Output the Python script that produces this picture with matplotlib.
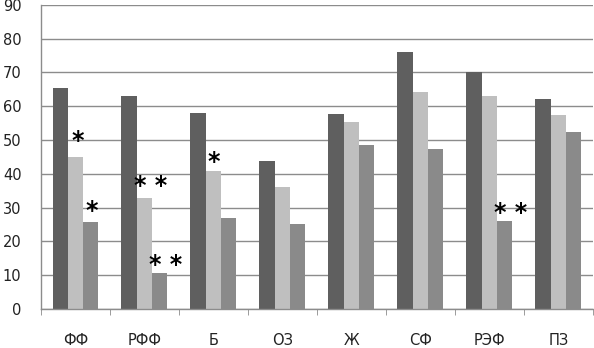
import numpy as np
import matplotlib.pyplot as plt

categories = ["ФФ", "РФФ", "Б", "ОЗ", "Ж", "СФ", "РЭФ", "ПЗ"]
series_a = [65.5, 62.9, 57.9, 43.8, 57.8, 76.2, 70.1, 62.1]
series_b = [45.1, 33.0, 40.7, 36.0, 55.2, 64.1, 62.9, 57.4]
series_c = [25.7, 10.7, 27.0, 25.3, 48.4, 47.4, 26.1, 52.4]
y_ticks = [0, 10, 20, 30, 40, 50, 60, 70, 80, 90]

# significance marks: (category index, x shift in category units, y value, text)
marks = [
    (0, 0.03, 49.7, "*"),
    (1, 0.095, 36.3, "* *"),
    (2, 0.0, 43.5, "*"),
    (0, 0.235, 29.0, "*"),
    (1, 0.30, 13.1, "* *"),
    (6, 0.31, 28.4, "* *"),
]

colors = ["#5f5f5f", "#bfbfbf", "#8a8a8a"]

fig = plt.figure(figsize=(5.94, 3.48), dpi=100)
ax = fig.add_axes([0.069, 0.112, 0.929, 0.874])

x = np.arange(len(categories))
w = 0.222
for j, vals in enumerate([series_a, series_b, series_c]):
    ax.bar(x + (j - 1) * w, vals, width=w, color=colors[j], zorder=2)

for i, dx, y, t in marks:
    ax.text(i + dx, y, t, ha="center", va="center", fontsize=17,
            fontweight="bold", color="black", zorder=3)

ax.set_xlim(-0.5, len(categories) - 0.5)
ax.set_ylim(0, 90)
ax.set_yticks(y_ticks)
ax.yaxis.grid(True, color="#8c8c8c", linewidth=1)
ax.set_axisbelow(True)

ax.set_xticks(x)
ax.set_xticklabels(categories, fontsize=10.5, color="#222222")
ax.set_xticks(np.arange(len(categories) + 1) - 0.5, minor=True)
ax.tick_params(axis="x", which="major", length=0, pad=17)
ax.tick_params(axis="x", which="minor", length=4, color="#8c8c8c", direction="out")
ax.tick_params(axis="y", length=0, pad=14, labelsize=10.5, labelcolor="#222222")

for s in ["top", "right"]:
    ax.spines[s].set_visible(False)
for s in ["left", "bottom"]:
    ax.spines[s].set_color("#8c8c8c")
    ax.spines[s].set_linewidth(1)

fig.savefig("out.png", dpi=100)
